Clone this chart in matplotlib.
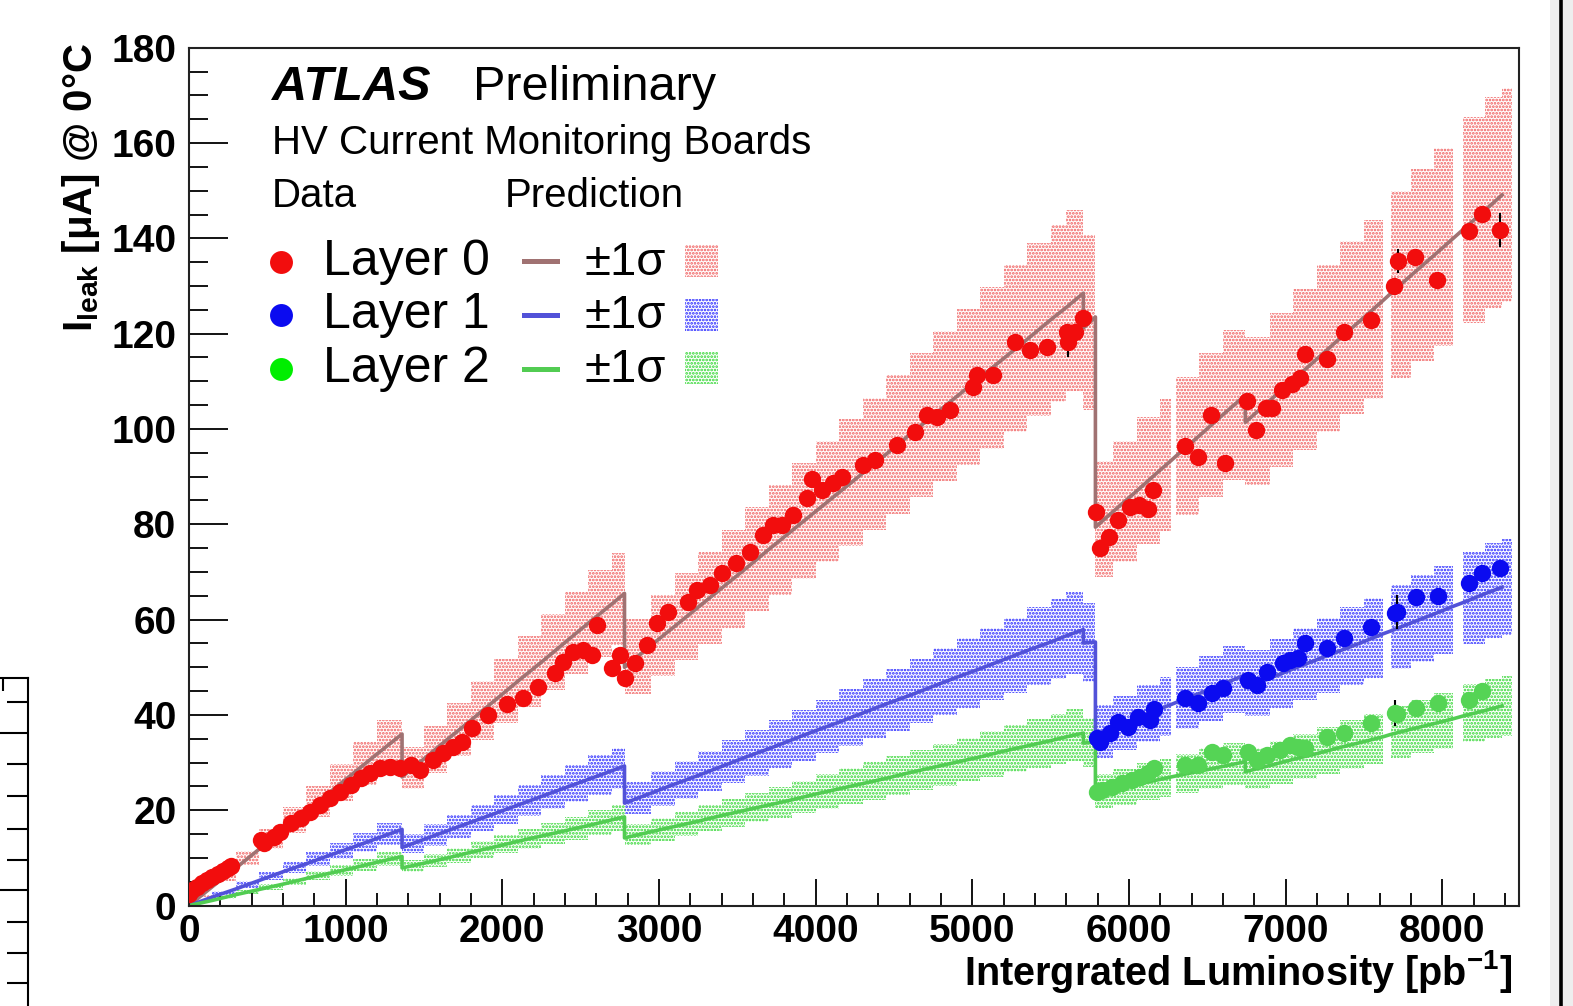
import matplotlib
matplotlib.use('Agg')
import matplotlib.pyplot as plt
import numpy as np
from matplotlib.lines import Line2D
from matplotlib.patches import Rectangle

plt.rcParams['font.family'] = ['Liberation Sans', 'DejaVu Sans']
plt.rcParams['mathtext.fontset'] = 'custom'
plt.rcParams['mathtext.rm'] = 'Liberation Sans'
plt.rcParams['mathtext.bf'] = 'Liberation Sans:bold'
plt.rcParams['mathtext.it'] = 'Liberation Sans:italic'
plt.rcParams['hatch.linewidth'] = 1.3

# ---- measured leakage current (data points) ----
red_x = [0, 22, 54, 86, 118, 150, 182, 214, 246, 271,
         457, 476, 540, 584, 648, 712, 775, 839, 903, 967, 1031, 1095, 1158, 1222, 1286, 1350, 1414,
         1477, 1560, 1624, 1688, 1745, 1809, 1911, 2032, 2134, 2230, 2338, 2390, 2454, 2518, 2575, 2607,
         2703, 2754, 2786, 2849, 2926, 2990, 3060, 3188, 3245, 3328, 3404, 3494, 3584, 3667, 3731, 3787,
         3858, 3947, 3979, 4043, 4113, 4171, 4305, 4381, 4521, 4636, 4713, 4777, 4860, 5006, 5032, 5134,
         5274, 5370, 5479, 5606, 5613, 5658, 5709,
         5792, 5817, 5875, 5932, 6009, 6066, 6124, 6156, 6360, 6443, 6526, 6615, 6756, 6813, 6877, 6915,
         6979, 7043, 7094, 7126, 7267, 7375, 7547, 7694, 7720, 7828, 7969, 8173, 8256, 8371]
red_y = [2.5, 3.3, 3.9, 4.8, 5.4, 6.0, 6.6, 7.3, 7.9, 8.3,
         13.8, 13.1, 14.4, 15.5, 17.3, 18.4, 19.7, 21.2, 22.6, 23.9, 25.3, 26.7, 27.8, 28.8, 29.1, 28.8, 29.4,
         28.5, 30.5, 32.0, 33.3, 34.3, 37.3, 40.0, 42.2, 43.6, 45.9, 48.8, 51.1, 53.2, 53.6, 52.6, 58.9,
         49.8, 52.6, 47.7, 50.8, 54.7, 59.3, 61.5, 63.7, 66.2, 67.3, 69.8, 71.9, 74.2, 77.7, 79.9, 79.9,
         82.0, 85.5, 89.5, 87.2, 88.6, 89.9, 92.4, 93.4, 96.6, 99.4, 103.0, 102.5, 104.0, 108.8, 111.3, 111.3,
         118.2, 116.6, 117.2, 120.4, 118.2, 120.4, 123.3,
         82.6, 75.0, 77.3, 80.9, 83.6, 84.1, 83.2, 87.2, 96.4, 94.1, 103.0, 92.8, 105.9, 99.7, 104.3, 104.5,
         108.1, 109.5, 110.8, 115.7, 114.6, 120.4, 122.9, 129.9, 135.3, 136.1, 131.3, 141.5, 145.1, 141.8]

blue_x = [5797, 5817, 5881, 5932, 5996, 6060, 6136, 6162, 6360, 6443, 6532, 6603, 6762, 6820, 6883,
          6986, 7030, 7081, 7126, 7267, 7375, 7547, 7700, 7713, 7834, 7975, 8173, 8256, 8371]
blue_y = [35.1, 34.3, 36.2, 38.5, 37.5, 39.6, 39.0, 41.3, 43.6, 42.5, 44.6, 45.6, 47.3, 46.3, 49.0,
          50.8, 51.5, 52.0, 55.1, 54.0, 56.2, 58.5, 61.3, 61.6, 64.7, 64.9, 67.6, 69.8, 70.8]

green_x = [5797, 5829, 5893, 5957, 6021, 6072, 6124, 6162, 6360, 6443, 6532, 6603, 6762, 6820,
           6883, 6966, 7030, 7081, 7126, 7267, 7375, 7547, 7700, 7713, 7834, 7975, 8173, 8256]
green_y = [23.8, 24.2, 24.9, 25.7, 26.3, 27.0, 27.8, 28.8, 29.5, 29.5, 32.2, 31.5, 32.2, 30.5,
           31.5, 32.6, 33.7, 33.3, 33.0, 35.4, 36.2, 38.3, 40.4, 40.2, 41.4, 42.5, 43.2, 45.0]

# a few error bars that stick out of the markers
err_x = [8371, 7720, 5613, 7713, 7700]
err_y = [141.8, 135.3, 118.2, 61.6, 40.4]
err_size = [3.6, 2.5, 3.0, 3.5, 2.8]

# ---- prediction (shared luminosity nodes, repeated x = annealing drop) ----
pred_x = [0, 150, 300, 450, 600, 750, 900, 1050, 1200, 1360,
          1360, 1500, 1650, 1800, 1950, 2100, 2250, 2400, 2550, 2700, 2780,
          2780, 2950, 3100, 3250, 3400, 3550, 3700, 3850, 4000, 4150, 4300, 4450, 4600, 4750, 4900,
          5050, 5200, 5350, 5500, 5600, 5709,
          5709, 5786,
          5786, 5900, 6050, 6200, 6270, 6300, 6450, 6600, 6743,
          6743, 6900, 7050, 7200, 7350, 7500, 7620, 7670, 7800, 7950, 8070, 8135, 8270, 8382]
pred_red = [0, 4.0, 7.9, 11.9, 15.9, 19.9, 23.8, 27.8, 31.8, 36.0,
            27.0, 30.8, 34.9, 38.9, 43.0, 47.1, 51.1, 55.2, 59.3, 63.3, 65.5,
            50.0, 54.6, 58.6, 62.6, 66.6, 70.6, 74.7, 78.7, 82.7, 86.7, 90.7, 94.7, 98.8, 102.8, 106.8,
            110.8, 114.8, 118.8, 122.9, 125.5, 128.5,
            121.2, 123.5,
            79.4, 82.7, 87.0, 91.4, 93.4, 94.3, 98.6, 103.0, 107.1,
            101.4, 106.0, 110.3, 114.7, 119.1, 123.4, 126.9, 128.4, 132.2, 136.5, 140.0, 141.9, 145.8, 149.1]
pred_blue = [0, 1.8, 3.5, 5.3, 7.1, 8.8, 10.6, 12.3, 14.1, 16.0,
             12.2, 13.9, 15.7, 17.5, 19.3, 21.1, 22.9, 24.7, 26.5, 28.3, 29.3,
             21.5, 23.6, 25.5, 27.3, 29.2, 31.1, 32.9, 34.8, 36.7, 38.5, 40.4, 42.3, 44.1, 46.0, 47.9,
             49.7, 51.6, 53.5, 55.3, 56.6, 57.9,
             55.1, 55.3,
             35.8, 37.3, 39.3, 41.3, 42.2, 42.6, 44.5, 46.5, 48.4,
             45.7, 47.7, 49.7, 51.6, 53.5, 55.4, 57.0, 57.6, 59.3, 61.2, 62.8, 63.6, 65.4, 66.8]
pred_green = [0, 1.1, 2.3, 3.4, 4.5, 5.7, 6.8, 7.9, 9.1, 10.3,
              7.9, 8.9, 10.0, 11.2, 12.3, 13.5, 14.6, 15.7, 16.8, 18.0, 18.6,
              14.2, 15.5, 16.6, 17.7, 18.9, 20.0, 21.1, 22.2, 23.4, 24.5, 25.6, 26.7, 27.9, 29.0, 30.1,
              31.2, 32.4, 33.5, 34.6, 35.4, 36.2,
              34.1, 34.3,
              23.6, 24.4, 25.4, 26.5, 27.0, 27.2, 28.2, 29.2, 30.2,
              28.1, 29.4, 30.7, 31.9, 33.2, 34.4, 35.4, 35.9, 37.0, 38.2, 39.2, 39.8, 40.9, 41.9]
rel_sigma = 0.15          # +-1 sigma band, relative
no_beam = [(6270, 6300), (7620, 7670), (8070, 8135)]
band_end = 8445

layers = [
    ('Layer 0', red_x, red_y, pred_red, '#f20d0d', '#f20d0d', '#a07272', '#f05a5a'),
    ('Layer 1', blue_x, blue_y, pred_blue, '#0b0bf0', '#0b0bf0', '#5252d8', '#2222ff'),
    ('Layer 2', green_x, green_y, pred_green, '#55d455', '#00ee00', '#52cc52', '#30d630'),
]

fig = plt.figure(figsize=(15.73, 10.06), dpi=100)
ax = fig.add_axes([189 / 1573, 1 - 905.6 / 1006, 1330 / 1573, 857.9 / 1006])


def band_bars(xs, ys):
    left, width, lo, hi = [], [], [], []
    for i in range(len(xs)):
        x0 = xs[i]
        x1 = xs[i + 1] if i + 1 < len(xs) else band_end
        if x1 <= x0:
            continue
        if any(g0 <= x0 and x1 <= g1 for g0, g1 in no_beam):
            continue
        v = ys[i] if i + 1 == len(xs) else 0.5 * (ys[i] + ys[i + 1])
        left.append(x0)
        width.append(x1 - x0)
        lo.append(v * (1 - rel_sigma))
        hi.append(v * (1 + rel_sigma))
    return left, width, np.array(lo), np.array(hi)


for name, dx, dy, py, col, lcol, pcol, bcol in layers:
    left, width, lo, hi = band_bars(pred_x, py)
    ax.bar(left, hi - lo, width=width, bottom=lo, align='edge', color='none',
           edgecolor=bcol, hatch='.....', linewidth=0, zorder=1)

for name, dx, dy, py, col, lcol, pcol, bcol in layers:
    ax.plot(pred_x, py, color=pcol, lw=2.6, zorder=2)

ax.errorbar(err_x, err_y, yerr=err_size, fmt='none', ecolor='black', elinewidth=1.5, capsize=0, zorder=2.5)

for name, dx, dy, py, col, lcol, pcol, bcol in layers:
    ax.plot(dx, dy, 'o', color=col, markersize=12.5, markeredgewidth=0, zorder=3)

ax.set_xlim(0, 8490)
ax.set_ylim(0, 180)
ax.set_xticks(np.arange(0, 8001, 1000))
ax.set_xticks(np.arange(0, 8491, 200), minor=True)
ax.set_yticks(np.arange(0, 181, 20))
ax.set_yticks(np.arange(0, 181, 5), minor=True)
ax.tick_params(axis='both', which='both', direction='in', top=False, right=False, width=1.3)
ax.tick_params(axis='y', which='major', length=28, pad=9)
ax.tick_params(axis='y', which='minor', length=14)
ax.tick_params(axis='x', which='major', length=19.5, pad=6)
ax.tick_params(axis='x', which='minor', length=9.5)
for lab in ax.get_xticklabels() + ax.get_yticklabels():
    lab.set_fontsize(28)
    lab.set_fontweight('bold')
for sp in ax.spines.values():
    sp.set_linewidth(1.5)
    sp.set_color('#222222')

fig.text(1512 / 1573, 1 - 985 / 1006, r'Intergrated Luminosity [pb$^{\mathbf{-1}}$]',
         fontsize=28.5, fontweight='bold', ha='right', va='baseline')
fig.text(81 / 1573, 1 - 187.5 / 1006, r'$\mathbf{I_{leak}}$ [μA] @ 0°C',
         fontsize=29, fontweight='bold', rotation=90, ha='center', va='center')

# ---- legend block ----
T = ax.transAxes
ax.text(0.0624, 0.939, 'ATLAS', fontsize=35, fontweight='bold', fontstyle='italic', transform=T, va='baseline')
ax.text(0.2135, 0.939, 'Preliminary', fontsize=35, transform=T, va='baseline')
ax.text(0.0624, 0.876, 'HV Current Monitoring Boards', fontsize=29, transform=T, va='baseline')
ax.text(0.0624, 0.8147, 'Data', fontsize=29, transform=T, va='baseline')
ax.text(0.2376, 0.8147, 'Prediction', fontsize=29, transform=T, va='baseline')

row_base = [0.735, 0.673, 0.610]
row_mark = [0.750, 0.688, 0.625]
row_box = [0.7327, 0.6697, 0.6080]
for (name, dx, dy, py, col, lcol, pcol, bcol), yb, ym, yr in zip(layers, row_base, row_mark, row_box):
    ax.plot([0.0692], [ym], 'o', color=lcol, markersize=16.5, markeredgewidth=0, transform=T, clip_on=False)
    ax.text(0.1008, yb, name, fontsize=36, transform=T, va='baseline')
    ax.add_line(Line2D([0.2519, 0.2767], [ym + 0.001, ym + 0.001], color=pcol, lw=3.6, transform=T))
    ax.text(0.2977, yb, '±1σ', fontsize=34, transform=T, va='baseline')
    ax.add_patch(Rectangle((0.3729, yr), 0.0248, 0.0375, transform=T, facecolor='none',
                           edgecolor=bcol, hatch='.....', linewidth=0))

# ---- neighbouring panel edge on the left and window border on the right ----
ax2 = fig.add_axes([0, 0, 28 / 1573, (1006 - 678) / 1006])
ax2.set_xlim(0, 28)
ax2.set_ylim(0, 328)
ax2.patch.set_alpha(0)
for s in ['left', 'bottom']:
    ax2.spines[s].set_visible(False)
for s in ['top', 'right']:
    ax2.spines[s].set_linewidth(1.5)
ax2.yaxis.tick_right()
ax2.set_yticks([116, 273])
ax2.set_yticks([23, 53, 84, 146, 177, 210, 242, 304], minor=True)
ax2.tick_params(axis='y', which='both', direction='in', labelright=False, width=1.5)
ax2.tick_params(axis='y', which='major', length=24)
ax2.tick_params(axis='y', which='minor', length=15)
ax2.xaxis.tick_top()
ax2.set_xticks([3])
ax2.tick_params(axis='x', direction='in', length=9, width=1.5, labeltop=False)

fig.patches.append(Rectangle((1550 / 1573, 0), 23 / 1573, 1, transform=fig.transFigure,
                             facecolor='#eeeeee', edgecolor='none', zorder=0))
fig.lines.append(Line2D([1561 / 1573, 1561 / 1573], [0, 1], transform=fig.transFigure,
                        color='black', lw=2.6))

fig.savefig('out.png', dpi=100)
